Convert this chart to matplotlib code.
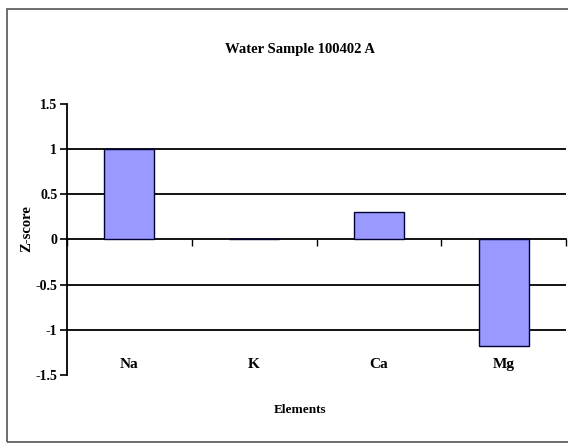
import matplotlib
matplotlib.use("Agg")
import matplotlib.pyplot as plt
from matplotlib.patches import Rectangle

categories = ["Na", "K", "Ca", "Mg"]
zscores = [1.0, 0.0, 0.3, -1.18]
yticks = [-1.5, -1, -0.5, 0, 0.5, 1, 1.5]
ytick_labels = ["-1.5", "-1", "-0.5", "0", "0.5", "1", "1.5"]
gridvals = [-1, -0.5, 0.5, 1]

plt.rcParams['font.family'] = ['Liberation Serif', 'DejaVu Serif']
plt.rcParams['font.weight'] = 'bold'

fig = plt.figure(figsize=(5.68, 4.45), dpi=100)
fig.patches.append(Rectangle((7/568, 3/445), 1.0, 1 - 12/445, transform=fig.transFigure,
                             fill=False, edgecolor='#555555', linewidth=1.2))
ax = fig.add_axes([67/568, 1 - 375/445, 499/568, 271/445])

x = list(range(len(categories)))
ax.bar(x, zscores, width=0.4, color='#9999FF', edgecolor='#000033', linewidth=1.0, zorder=3)
for g in gridvals:
    ax.axhline(g, color='black', linewidth=1.3, zorder=1)

ax.set_xlim(-0.5, len(categories) - 0.5)
ax.set_ylim(-1.5, 1.5)
ax.set_yticks(yticks)
ax.set_yticklabels(ytick_labels, fontsize=10, fontweight='bold')
ax.tick_params(axis='y', direction='out', length=5, width=1.2, pad=2)

for s in ['top', 'right']:
    ax.spines[s].set_visible(False)
ax.spines['left'].set_linewidth(1.3)
ax.spines['bottom'].set_position(('data', 0))
ax.spines['bottom'].set_linewidth(1.3)
ax.set_xticks([i + 0.5 for i in range(-1, len(categories))])
ax.set_xticklabels([])
ax.tick_params(axis='x', direction='out', length=5, width=1.0)

for i, c in enumerate(categories):
    ax.text(i, -1.38, c, ha='center', va='center', fontsize=11, fontweight='bold')

ax.set_ylabel("Z-score", fontsize=10.5, fontweight='bold')
ax.yaxis.set_label_coords(-0.068, 0.54)
fig.text(300/568, 1 - 410/445, "Elements", ha='center', va='center', fontsize=9.5, fontweight='bold')
fig.text(300/568, 1 - 50/445, "Water Sample 100402 A", ha='center', va='center', fontsize=10.5, fontweight='bold')

fig.savefig("out.png", dpi=100)
